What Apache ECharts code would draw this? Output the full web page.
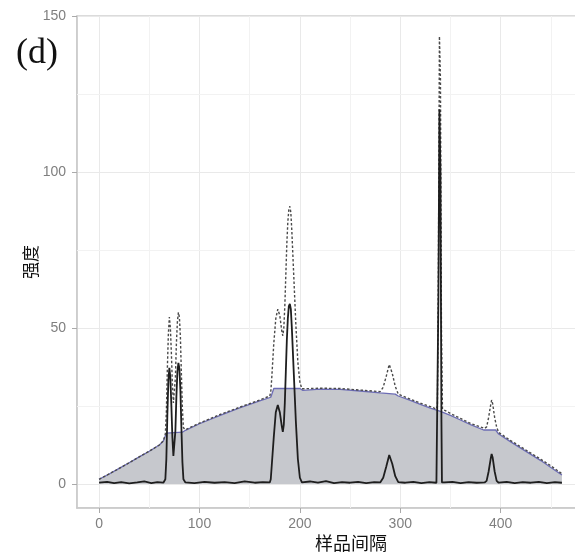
<!DOCTYPE html>
<html>
<head>
<meta charset="utf-8">
<script src="https://cdn.jsdelivr.net/npm/echarts@6/dist/echarts.min.js"></script>
<style>html,body{margin:0;padding:0;background:#fff;}#c{width:575px;height:557px;}</style>
</head>
<body>
<div id="c"></div>
<script>
// ---- data (x = sample interval, y = intensity) ----
const xTickLabels = [0, 100, 200, 300, 400];
const yTickLabels = [0, 50, 100, 150];
const minorX = [50, 150, 250, 350, 450];
const minorY = [25, 75, 125];

// estimated baseline (grey filled area)
const baselineXY = [[0,1.5],[10,3.2],[20,5.0],[30,6.8],[40,8.7],[50,10.5],[60,12.5],[64,13.8],[67,16.3],[83,16.6],[86,17.2],[100,19.3],[120,21.9],[140,24.4],[160,26.6],[171,27.8],[174,30.6],[200,30.6],[203,30.0],[220,30.4],[240,30.3],[260,29.8],[280,29.2],[295,28.8],[298,28.2],[310,26.8],[320,25.5],[330,24.3],[340,23.3],[350,22.0],[360,20.5],[370,19.0],[383,17.3],[395,17.3],[398,16.0],[410,13.5],[420,11.5],[430,9.5],[440,7.5],[450,5.3],[461,2.9]];

// original signal (dashed)
const originalXY = [[0,1.5],[10,3.2],[20,5.0],[30,6.8],[40,8.7],[50,10.5],[60,12.5],[64,13.8],[66,16],[67,23],[68,37],[69,48],[70,53.5],[71,50],[72,42],[73,32],[74,26],[75,26.5],[76,34],[77,45],[78,52],[79,55],[80,53.5],[81,47],[82,35],[83,24],[84,18],[86,17.4],[100,19.5],[120,22.2],[140,24.6],[160,26.9],[170,28.2],[171,29.5],[172,34],[174,45],[176,53],[178,56],[180,54],[182,49],[183,47.5],[184,50],[185,57],[186,67],[187,77],[188,84],[189,88],[190,89],[191,87],[192,81],[194,66],[196,51],[198,39],[200,32.6],[202,30.5],[220,30.7],[240,30.6],[260,30.1],[280,29.6],[283,31],[286,34.5],[289,38.3],[292,35.5],[295,31.3],[298,28.8],[310,27.2],[320,25.9],[330,24.8],[336,24],[337,25],[338,70],[339,143.5],[340,130],[341,50],[342,24],[350,22.6],[360,21],[370,19.4],[384,17.8],[386,18.3],[388,21.3],[390,25.3],[391,26.9],[392,25.8],[394,21.3],[396,18.2],[398,16.5],[410,13.9],[420,11.9],[430,9.9],[440,7.9],[450,5.8],[461,3.3]];

// baseline-corrected signal (solid)
const correctedXY = [[0,0.4],[8,0.7],[15,0.3],[22,0.6],[30,0.2],[38,0.5],[45,0.8],[52,0.3],[58,0.6],[64,0.4],[66,1.5],[67,8],[68,22],[69,33],[70,37.2],[71,34],[72,25],[73,15],[74,9],[75,9.5],[76,17],[77,28],[78,36],[79,38.8],[80,37],[81,30],[82,18],[83,7],[84,1.5],[86,0.5],[95,0.3],[105,0.7],[115,0.4],[125,0.6],[135,0.3],[145,0.8],[155,0.4],[163,0.6],[170,0.5],[171,1.5],[172,6],[174,15],[176,23],[178,25.3],[180,23],[182,18.5],[183,16.7],[184,19],[185,26],[186,36],[187,46],[188,53],[189,57],[190,57.7],[191,56],[192,50],[194,35],[196,20],[198,8],[200,2],[202,0.5],[210,0.8],[218,0.4],[226,0.9],[234,0.3],[242,0.6],[250,0.4],[258,0.7],[266,0.3],[274,0.6],[280,0.5],[283,2],[286,5.5],[289,9.3],[292,6.5],[295,2.5],[298,0.6],[305,0.4],[313,0.7],[321,0.3],[329,0.6],[336,0.4],[337.5,0.5],[338,60],[339,120],[340,100],[341,20],[341.5,0.5],[344,0.5],[352,0.7],[360,0.3],[368,0.6],[376,0.4],[384,0.5],[386,1],[388,4],[390,8],[391,9.6],[392,8.5],[394,4],[396,1],[398,0.4],[406,0.7],[414,0.3],[422,0.6],[430,0.4],[438,0.7],[446,0.3],[454,0.6],[461,0.4]];

const chart = echarts.init(document.getElementById('c'), null, {renderer: 'canvas'});
const labelFont = {color: '#7f7f7f', fontSize: 14, fontFamily: 'Liberation Sans, Arial, sans-serif'};

chart.setOption({
  animation: false,
  backgroundColor: '#ffffff',
  grid: {left: 77, top: 16, width: 506, height: 492, outerBoundsMode: 'none', show: true, borderColor: '#cfcfcf', borderWidth: 1.5, backgroundColor: 'transparent', containLabel: false},
  xAxis: {
    type: 'value', min: -22, max: 482, splitNumber: 5,
    axisLine: {show: true, onZero: false, lineStyle: {color: '#c8c8c8', width: 1.5}},
    axisTick: {show: true, length: 5, lineStyle: {color: '#aaaaaa'}},
    axisLabel: Object.assign({showMinLabel: false, showMaxLabel: false, margin: 9,
      formatter: v => xTickLabels.indexOf(v) >= 0 ? String(v) : ''}, labelFont),
    splitLine: {show: true, lineStyle: {color: '#e9e9e9', width: 1}}
  },
  yAxis: {
    type: 'value', min: -7.7, max: 150, splitNumber: 3,
    axisLine: {show: true, onZero: false, lineStyle: {color: '#c8c8c8', width: 1.5}},
    axisTick: {show: true, length: 5, lineStyle: {color: '#aaaaaa'}},
    axisLabel: Object.assign({showMinLabel: false, showMaxLabel: true, margin: 11,
      formatter: v => yTickLabels.indexOf(v) >= 0 ? String(v) : ''}, labelFont),
    splitLine: {show: true, lineStyle: {color: '#e9e9e9', width: 1}}
  },
  graphic: [
    {type: 'text', left: 16, top: 36, style: {text: '(d)', font: '36px "Liberation Serif", "Times New Roman", serif', fill: '#111'}},
    {type: 'text', x: 351, y: 543, style: {text: '样品间隔', font: '18px "Noto Sans CJK SC", sans-serif', fill: '#111', textAlign: 'center', textVerticalAlign: 'middle'}},
    {type: 'text', x: 31, y: 262, rotation: Math.PI / 2, style: {text: '强度', font: '17px "Noto Sans CJK SC", sans-serif', fill: '#111', textAlign: 'center', textVerticalAlign: 'middle'}}
  ],
  series: [
    {
      type: 'line', name: 'baseline', data: baselineXY, symbol: 'none', z: 2,
      lineStyle: {color: '#6c6cb4', width: 1.3},
      areaStyle: {color: '#c6c8cd', opacity: 1},
      markLine: {
        z: 1, silent: true, symbol: 'none', label: {show: false},
        lineStyle: {color: '#f2f2f2', width: 1, type: 'solid'},
        data: minorX.map(v => ({xAxis: v})).concat(minorY.map(v => ({yAxis: v})))
      }
    },
    {
      type: 'line', name: 'original', data: originalXY, symbol: 'none', z: 3,
      lineStyle: {color: '#4a4a4a', width: 1.4, type: [2.5, 2]}
    },
    {
      type: 'line', name: 'corrected', data: correctedXY, symbol: 'none', z: 4,
      lineStyle: {color: '#1e1e1e', width: 1.8}
    }
  ]
});
</script>
</body>
</html>
